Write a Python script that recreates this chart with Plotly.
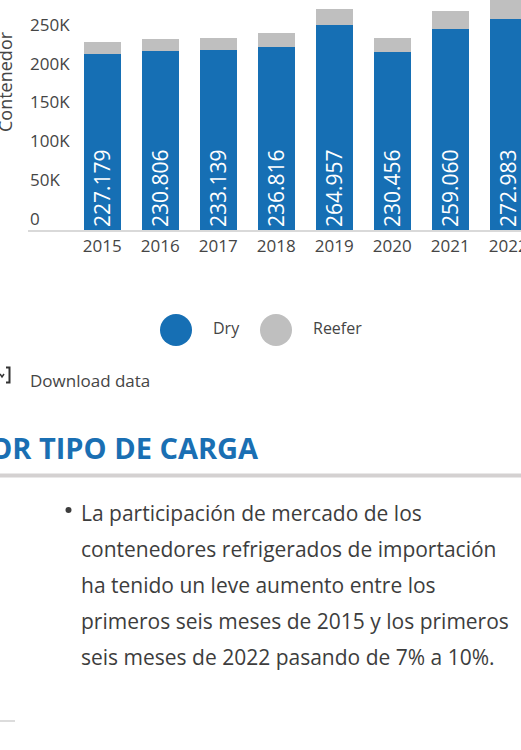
import plotly.graph_objects as go

# ---- data ----
years = ["2015", "2016", "2017", "2018", "2019", "2020", "2021", "2022"]
dry = [227179, 230806, 233139, 236816, 264957, 230456, 259060, 272983]
reefer = [15500, 15500, 15500, 18000, 20700, 18000, 23300, 30000]
ytick_vals = [0, 50000, 100000, 150000, 200000, 250000]
ytick_text = ["0", "50K", "100K", "150K", "200K", "250K"]
dry_labels = [f"{v:,}".replace(",", ".") for v in dry]

W, H = 521, 750
BLUE = "#166fb4"
GREY = "#bfbfbf"
TXT = "#454545"
FONT = "Open Sans"


def px(x):
    return x / W


def py(y):
    return 1 - y / H


fig = go.Figure()
fig.add_trace(go.Bar(
    x=years, y=dry, name="Dry", marker=dict(color=BLUE, line=dict(width=0)),
    text=dry_labels, textposition="inside", insidetextanchor="start",
    textangle=-90, textfont=dict(color="white", size=21, family=FONT),
    hoverinfo="skip", showlegend=False,
))
fig.add_trace(go.Bar(
    x=years, y=reefer, name="Reefer", marker=dict(color=GREY, line=dict(width=0)),
    hoverinfo="skip", showlegend=False,
))

plot_left, plot_right, plot_top, plot_bottom = 28, 521, 0, 230
slot = 58.0
first_center = 102.3
x0 = -0.5 - (first_center - slot / 2 - plot_left) / slot
x1 = x0 + (plot_right - plot_left) / slot
ymax = 50000 / 38.7 * (plot_bottom - plot_top)

fig.update_layout(
    width=W, height=H,
    margin=dict(l=0, r=0, t=0, b=0, autoexpand=False),
    paper_bgcolor="white", plot_bgcolor="white",
    barmode="stack", bargap=0.362,
    font=dict(family=FONT, color=TXT, size=17),
    showlegend=False,
    xaxis=dict(
        domain=[px(plot_left), px(plot_right)], range=[x0, x1],
        showgrid=False, zeroline=False, showline=True,
        linecolor="#d9d9d9", linewidth=2, ticks="",
        tickfont=dict(size=17, color=TXT, family=FONT),
        automargin=False, fixedrange=True,
    ),
    yaxis=dict(
        domain=[py(plot_bottom), py(plot_top)], range=[0, ymax],
        showgrid=False, zeroline=False, showline=False, ticks="",
        showticklabels=False, automargin=False, fixedrange=True,
    ),
)

annotations = []
shapes = []

# y tick labels (drawn slightly above their value, left aligned)
for v, t in zip(ytick_vals, ytick_text):
    annotations.append(dict(
        text=t, xref="paper", yref="y", x=px(plot_left), y=v, yshift=12,
        xanchor="left", yanchor="middle", showarrow=False,
        font=dict(size=17, color=TXT, family=FONT),
    ))

# y-axis title (partly cut off on the left)
annotations.append(dict(
    text="Contenedor", xref="paper", yref="paper", x=px(5), y=py(82),
    xanchor="center", yanchor="middle", textangle=-90, showarrow=False,
    font=dict(size=18, color=TXT, family=FONT),
))

# custom legend
for cx, label in [(176, "Dry"), (276, "Reefer")]:
    col = BLUE if label == "Dry" else GREY
    shapes.append(dict(
        type="circle", xref="paper", yref="paper",
        x0=px(cx - 16), x1=px(cx + 16), y0=py(330 + 16), y1=py(330 - 16),
        fillcolor=col, line=dict(width=0),
    ))
    annotations.append(dict(
        text=label, xref="paper", yref="paper", x=px(cx + 35), y=py(328),
        xanchor="left", yanchor="middle", showarrow=False,
        font=dict(size=16, color=TXT, family=FONT),
    ))

# download link
shapes.append(dict(
    type="path", xref="paper", yref="paper",
    path=f"M {px(6)} {py(367.5)} L {px(9.5)} {py(367.5)} L {px(9.5)} {py(382.5)} L {px(6)} {py(382.5)}",
    line=dict(color="#333333", width=2),
))
shapes.append(dict(
    type="path", xref="paper", yref="paper",
    path=f"M {px(0)} {py(374)} L {px(2)} {py(377)} L {px(4)} {py(374)}",
    line=dict(color="#333333", width=1.5),
))
annotations.append(dict(
    text="Download data", xref="paper", yref="paper", x=px(28), y=py(380),
    xanchor="left", yanchor="middle", showarrow=False,
    font=dict(size=17, color=TXT, family=FONT),
))

# section heading (partly cut off on the left)
annotations.append(dict(
    text="<b>POR TIPO DE CARGA</b>", xref="paper", yref="paper", x=px(261), y=py(447),
    xanchor="right", yanchor="middle", showarrow=False,
    font=dict(size=29, color="#1a6fb3", family=FONT),
))
shapes.append(dict(
    type="line", xref="paper", yref="paper",
    x0=0, x1=1, y0=py(475.5), y1=py(475.5),
    line=dict(color="#d4d1d1", width=4),
))

# bullet paragraph
lines = [
    "La participación de mercado de los",
    "contenedores refrigerados de importación",
    "ha tenido un leve aumento entre los",
    "primeros seis meses de 2015 y los primeros",
    "seis meses de 2022 pasando de 7% a 10%.",
]
shapes.append(dict(
    type="circle", xref="paper", yref="paper",
    x0=px(65.5), x1=px(71.5), y0=py(513), y1=py(507),
    fillcolor="#3d3d3d", line=dict(width=0),
))
for i, ln in enumerate(lines):
    annotations.append(dict(
        text=ln, xref="paper", yref="paper", x=px(79), y=py(513 + 36 * i),
        xanchor="left", yanchor="middle", showarrow=False,
        font=dict(size=21, color="#3d3d3d", family=FONT),
    ))

# small rule at bottom left
shapes.append(dict(
    type="line", xref="paper", yref="paper",
    x0=0, x1=px(15), y0=py(721), y1=py(721),
    line=dict(color="#dcdcdc", width=2),
))

fig.update_layout(annotations=annotations, shapes=shapes)
fig.write_html(
    "out.html",
    config={"displayModeBar": False},
    post_script="document.body.style.margin='0';document.body.style.overflow='hidden';",
)
